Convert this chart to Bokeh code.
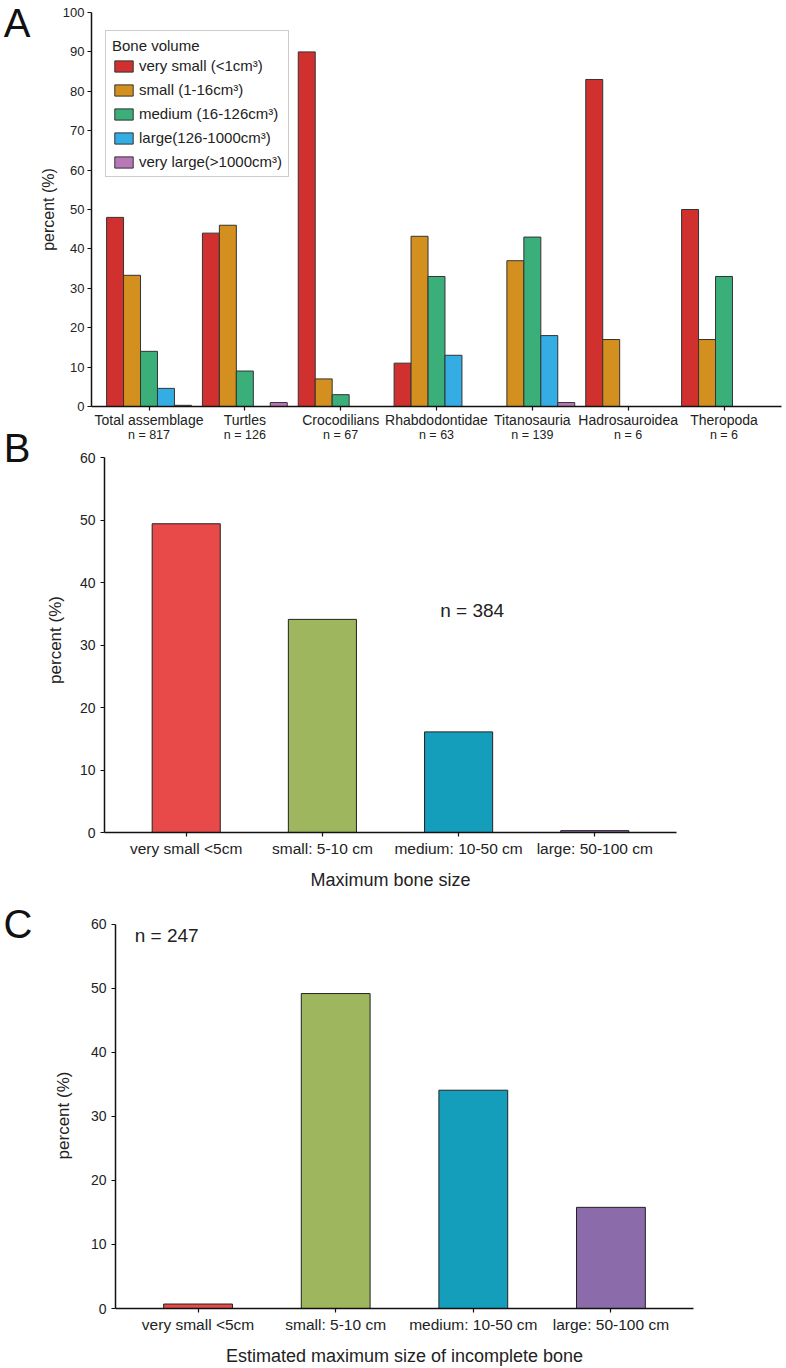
from bokeh.plotting import figure
from bokeh.models import FixedTicker, Label, LinearAxis, Range1d
from bokeh.embed import file_html
from bokeh.resources import INLINE

FONT = "Liberation Sans"
TXT = "#222222"

# ---- Panel A: bone volume classes per taxon ----
groups = ["Total assemblage", "Turtles", "Crocodilians", "Rhabdodontidae",
          "Titanosauria", "Hadrosauroidea", "Theropoda"]
group_n = ["n = 817", "n = 126", "n = 67", "n = 63", "n = 139", "n = 6", "n = 6"]
volume_classes = ["very small (<1cm³)", "small (1-16cm³)", "medium (16-126cm³)",
                  "large(126-1000cm³)", "very large(>1000cm³)"]
very_small = [48, 44, 90, 11, 0, 83, 50]
small = [33.3, 46, 7, 43.2, 37, 17, 17]
medium = [14, 9, 3, 33, 43, 0, 33]
large = [4.6, 0, 0, 13, 18, 0, 0]
very_large = [0.3, 1, 0, 0, 1, 0, 0]
volume_colors = ["#D0302E", "#D4901E", "#3AAF7A", "#34ACE4", "#B878B8"]

# ---- Panel B: maximum bone size ----
size_classes = ["very small <5cm", "small: 5-10 cm", "medium: 10-50 cm", "large: 50-100 cm"]
max_size_pct = [49.4, 34.1, 16.1, 0.3]
size_colors = ["#E84A4A", "#9EB65E", "#149EBB", "#8C6BAB"]

# ---- Panel C: estimated maximum size of incomplete bone ----
est_size_pct = [0.7, 49.2, 34.1, 15.8]


def style_axis(ax, tick_size, label_size):
    ax.axis_line_width = 1.5
    ax.axis_line_color = "#111111"
    ax.major_tick_line_color = "#111111"
    ax.major_tick_line_width = 1.2
    ax.major_tick_in = 0
    ax.major_tick_out = 4
    ax.minor_tick_line_color = None
    ax.major_label_text_font = FONT
    ax.major_label_text_font_size = tick_size
    ax.major_label_text_color = TXT
    ax.axis_label_text_font = FONT
    ax.axis_label_text_font_size = label_size
    ax.axis_label_text_font_style = "normal"
    ax.axis_label_text_color = TXT


def clean(p):
    p.outline_line_color = None
    p.xgrid.visible = False
    p.ygrid.visible = False
    p.background_fill_color = None
    p.border_fill_color = None


def panel_letter(p, letter, frame_px, pos_px, standoff):
    # panel letter drawn as an outer left axis on a pixel-scaled range
    p.extra_y_ranges = {"letter": Range1d(0, frame_px)}
    ax = LinearAxis(y_range_name="letter", ticker=FixedTicker(ticks=[pos_px]),
                    major_label_overrides={pos_px: letter})
    ax.axis_line_color = None
    ax.major_tick_line_color = None
    ax.minor_tick_line_color = None
    ax.major_label_text_font = FONT
    ax.major_label_text_font_size = "40px"
    ax.major_label_text_color = "#111111"
    ax.major_label_standoff = standoff
    p.add_layout(ax, "left")


# Panel A
pA = figure(width=786, height=444, output_backend="svg", toolbar_location=None,
            x_range=Range1d(-0.6, 6.6), y_range=Range1d(0, 100),
            min_border_left=90, min_border_right=5, min_border_top=12, min_border_bottom=37)
clean(pA)
bar_w = 0.177
series = [very_small, small, medium, large, very_large]
for k, (vals, name, col) in enumerate(zip(series, volume_classes, volume_colors)):
    xs = [i + (k - 2) * bar_w for i, v in enumerate(vals) if v > 0]
    tops = [v for v in vals if v > 0]
    pA.vbar(x=xs, top=tops, bottom=0, width=bar_w, fill_color=col,
            line_color="#333333", line_width=1, legend_label=name)

style_axis(pA.xaxis[0], "14px", "16px")
pA.xaxis.ticker = FixedTicker(ticks=list(range(len(groups))))
pA.xaxis.major_label_overrides = {i: g for i, g in enumerate(groups)}
pA.xaxis.major_label_standoff = 1
style_axis(pA.yaxis[0], "13px", "16px")
pA.yaxis.ticker = FixedTicker(ticks=list(range(0, 101, 10)))
pA.yaxis.axis_label = "percent (%)"
pA.yaxis.major_label_standoff = 3
pA.yaxis.axis_label_standoff = 3

n_axis = LinearAxis(ticker=FixedTicker(ticks=list(range(len(groups)))),
                    major_label_overrides={i: n for i, n in enumerate(group_n)})
style_axis(n_axis, "12.5px", "12px")
n_axis.axis_line_color = None
n_axis.major_tick_line_color = None
n_axis.major_tick_out = 0
n_axis.major_label_standoff = -3
pA.add_layout(n_axis, "below")
panel_letter(pA, "A", 395, 385, 0)

lg = pA.legend[0]
lg.location = (14, 229)
lg.title = "Bone volume"
lg.title_text_font = FONT
lg.title_text_font_size = "15px"
lg.title_text_font_style = "normal"
lg.title_text_color = TXT
lg.title_standoff = 3
lg.label_text_font = FONT
lg.label_text_font_size = "15px"
lg.label_text_color = TXT
lg.glyph_width = 23
lg.glyph_height = 14
lg.label_height = 17
lg.label_standoff = 4
lg.spacing = 7
lg.padding = 6
lg.margin = 0
lg.border_line_color = "#999999"
lg.border_line_width = 1


def size_panel(values, xlabel, height, top_border, frame_h, frame_top_val, left, right,
               ylabel_standoff, letter, letter_px, letter_standoff):
    p = figure(width=786, height=height, output_backend="svg", toolbar_location=None,
               x_range=Range1d(-0.6, 3.6), y_range=Range1d(0, frame_top_val),
               min_border_left=left, min_border_right=right,
               min_border_top=top_border, min_border_bottom=height - top_border - frame_h)
    clean(p)
    p.vbar(x=list(range(len(values))), top=values, bottom=0, width=0.5,
           fill_color=size_colors, line_color="#222222", line_width=1)
    style_axis(p.xaxis[0], "15.5px", "18px")
    style_axis(p.yaxis[0], "14px", "17px")
    p.xaxis.ticker = FixedTicker(ticks=list(range(len(size_classes))))
    p.xaxis.major_label_overrides = {i: s for i, s in enumerate(size_classes)}
    p.xaxis.axis_label = xlabel
    p.xaxis.major_label_standoff = 3
    p.xaxis.axis_label_standoff = 10
    p.yaxis.ticker = FixedTicker(ticks=list(range(0, 61, 10)))
    p.yaxis.bounds = (0, 60)
    p.yaxis.axis_label = "percent (%)"
    p.yaxis.axis_label_standoff = ylabel_standoff
    panel_letter(p, letter, frame_h, letter_px, letter_standoff)
    return p


# B overlaps the bottom strip of A so that its letter can sit beside A's labels
pB = size_panel(max_size_pct, "Maximum bone size", 474, 29, 390, 61.6, 102, 110,
                12, "B", 389, 6)
pB.margin = (-26, 0, 0, 0)
pB.add_layout(Label(x=2.1, y=35.6, text="n = 384", text_font=FONT, text_font_size="19px",
                    text_color=TXT, text_align="center", text_baseline="middle"))

pC = size_panel(est_size_pct, "Estimated maximum size of incomplete bone", 476, 30, 386,
                60.3, 113, 93, 15, "C", 385, 12)
pC.add_layout(Label(x=-0.46, y=58.3, text="n = 247", text_font=FONT, text_font_size="19px",
                    text_color=TXT, text_align="left", text_baseline="middle"))

open("out.html", "w").write(file_html([pA, pB, pC], INLINE))
